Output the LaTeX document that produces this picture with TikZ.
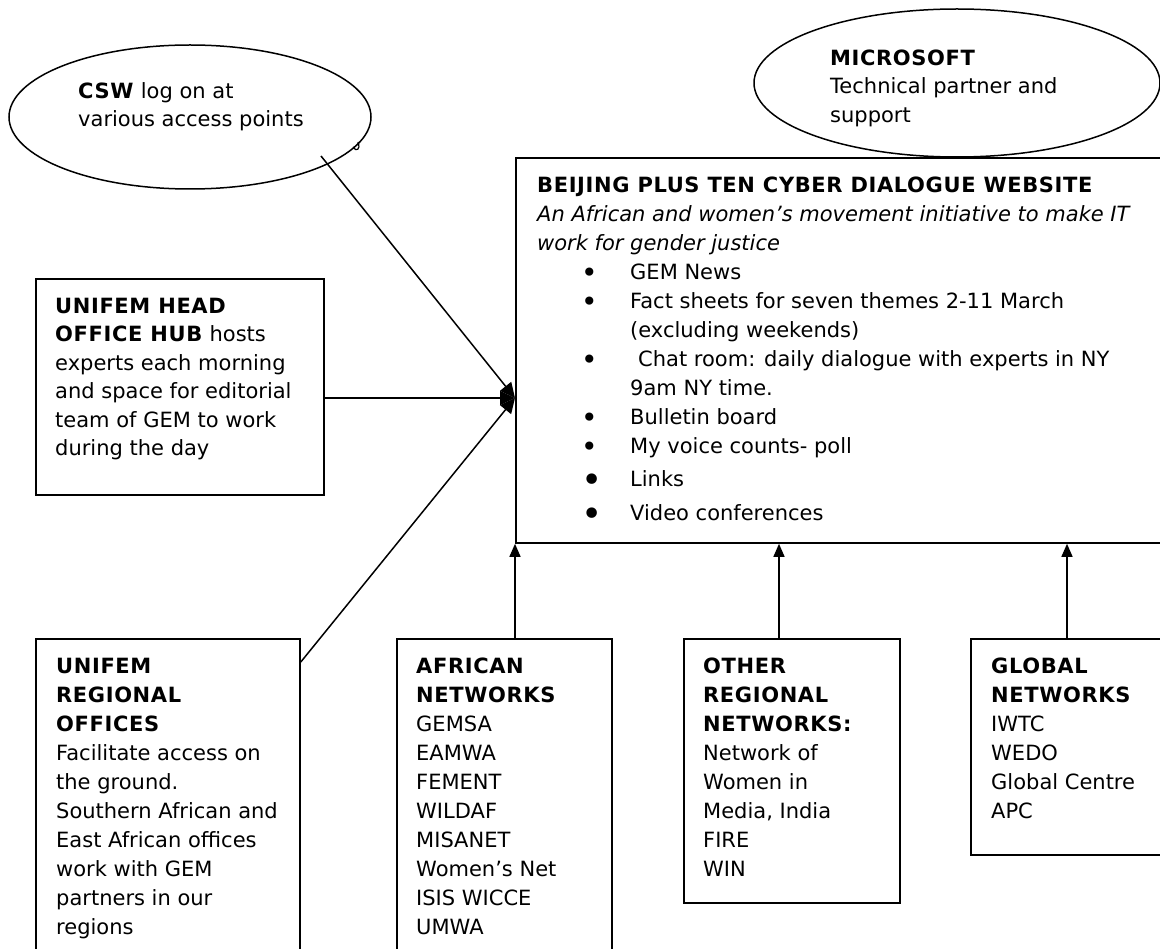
\documentclass[tikz,border=0pt]{standalone}
\usepackage{fontspec}
\setmainfont{DejaVu Sans}[BoldFeatures={LetterSpace=3}]
\usetikzlibrary{arrows.meta,calc,shapes.geometric}
\newcommand\mybul{\makebox[49pt][l]{\raisebox{-3pt}{\fontsize{28}{29}\selectfont •}}}
\newcommand\mybigbul{\makebox[49pt][l]{\raisebox{-6pt}{\fontsize{36}{29}\selectfont •}}}
\newcommand\fs{\rule{0pt}{17pt}}
\begin{document}
\begin{tikzpicture}[x=1pt,y=-1pt,
  box/.style={draw,line width=1.8pt,rectangle,anchor=north west,inner sep=0pt},
  oval/.style={draw,line width=1.5pt,ellipse,inner sep=0pt},
  txt/.style={anchor=north west,inner sep=0pt,align=left,font=\fontsize{21}{29}\selectfont},
  conn/.style={line width=1.5pt,-{Triangle[length=15pt,width=14pt]}},
  upar/.style={line width=1.4pt,-{Triangle[length=13pt,width=11pt]}}]
\useasboundingbox (0,0) rectangle (1160,949);
\fill[white] (0,0) rectangle (1160,949);
\clip (0,0) rectangle (1160,949);

% ellipses
\node[oval, minimum width=362pt, minimum height=144pt] (csw) at (190,117) {};
\node[oval, minimum width=406pt, minimum height=148pt] (ms) at (957,83) {};
\draw[line width=1.2pt] (353,147) .. controls (356,152) and (361,150) .. (358,142);

% boxes
\node[box, minimum width=680pt, minimum height=385pt] (main) at (515,157) {};
\node[box, minimum width=288pt, minimum height=216pt] (head) at (35,278) {};
\node[box, minimum width=264pt, minimum height=340pt] (reg) at (35,638) {};
\node[box, minimum width=215pt, minimum height=340pt] (afr) at (396,638) {};
\node[box, minimum width=216pt, minimum height=264pt] (oth) at (683,638) {};
\node[box, minimum width=230pt, minimum height=216pt] (glo) at (970,638) {};

% texts
\node[txt, font=\fontsize{21}{28}\selectfont] (cswt) at (78,81)
  {\fs\textbf{CSW} log on at\\various access points};
\node[txt, font=\fontsize{21}{28.5}\selectfont] (mst) at (830,48)
  {\fs\textbf{MICROSOFT}\\Technical partner and\\support};
\node[txt] (maint) at (537,175)
  {\fs\textbf{BEIJING PLUS TEN CYBER DIALOGUE WEBSITE}\\
   \textit{An African and women’s movement initiative to make IT}\\
   \textit{work for gender justice}\\
   \hspace*{44pt}\mybul GEM News\\
   \hspace*{44pt}\mybul Fact sheets for seven themes 2-11 March\\
   \hspace*{93pt}(excluding weekends)\\
   \hspace*{44pt}\mybul\hspace*{8pt}Chat room: daily dialogue with experts in NY\\
   \hspace*{93pt}9am NY time.\\
   \hspace*{44pt}\mybul Bulletin board\\
   \hspace*{44pt}\mybul My voice counts- poll\\[4pt]
   \hspace*{44pt}\mybigbul Links\\[5pt]
   \hspace*{44pt}\mybigbul Video conferences};
\node[txt, font=\fontsize{21}{28.5}\selectfont] (headt) at (55,296)
  {\fs\textbf{UNIFEM HEAD}\\\textbf{OFFICE HUB} hosts\\experts each morning\\and space for editorial\\team of GEM to work\\during the day};
\node[txt] (regt) at (56,656)
  {\fs\textbf{UNIFEM}\\\textbf{REGIONAL}\\\textbf{OFFICES}\\Facilitate access on\\the ground.\\Southern African and\\East African offices\\work with GEM\\partners in our\\regions};
\node[txt] (afrt) at (416,656)
  {\fs\textbf{AFRICAN}\\\textbf{NETWORKS}\\GEMSA\\EAMWA\\FEMENT\\WILDAF\\MISANET\\Women’s Net\\ISIS WICCE\\UMWA};
\node[txt] (otht) at (703,656)
  {\fs\textbf{OTHER}\\\textbf{REGIONAL}\\\textbf{NETWORKS:}\\Network of\\Women in\\Media, India\\FIRE\\WIN};
\node[txt] (glot) at (991,656)
  {\fs\textbf{GLOBAL}\\\textbf{NETWORKS}\\IWTC\\WEDO\\Global Centre\\APC};

% connectors
\coordinate (hub) at ($(main.north west)+(0,241)$);
\coordinate (cswtail) at ($(csw.center)+(131,39)$);
\coordinate (regtail) at ($(reg.north east)+(0,24)$);
\draw[conn] (cswtail) -- (hub);
\draw[conn] (head.east |- hub) -- (hub);
\draw[conn] (regtail) -- (hub);

\coordinate (t2) at ($(main.south west)+(264,0)$);
\coordinate (t3) at ($(main.south west)+(552,0)$);
\draw[upar] (afr.north -| main.south west) -- (main.south west);
\draw[upar] (oth.north -| t2) -- (t2);
\draw[upar] (glo.north -| t3) -- (t3);
\end{tikzpicture}
\end{document}
